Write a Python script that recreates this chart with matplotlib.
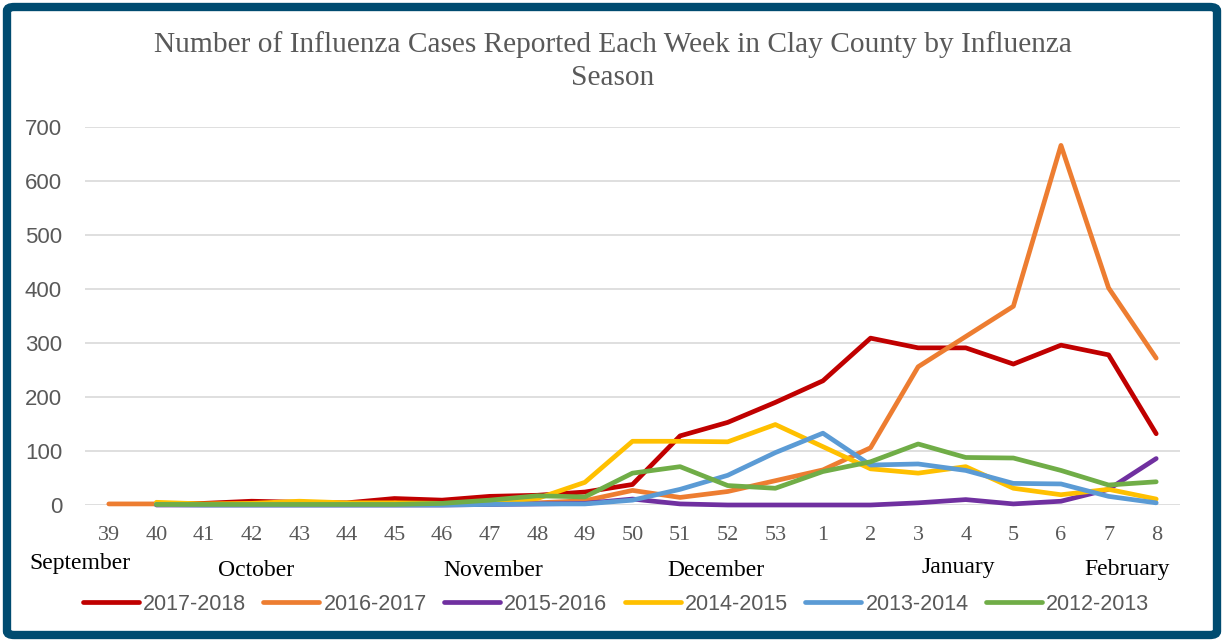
import numpy as np
import matplotlib.pyplot as plt
from matplotlib.patches import FancyBboxPatch

weeks = ['39', '40', '41', '42', '43', '44', '45', '46', '47', '48', '49', '50', '51', '52', '53',
         '1', '2', '3', '4', '5', '6', '7', '8']
nan = np.nan
s2017 = [nan, 2, 3, 7, 5, 4, 12, 9, 16, 18, 24, 38, 128, 153, 190, 230, 309, 291, 291, 261, 296, 278, 132]
s2016 = [2, 2, 1, 1, 1, 1, 1, 1, 2, 4, 8, 27, 14, 25, 45, 65, 106, 256, 312, 368, 666, 402, 272]
s2015 = [nan, 0, 0, 0, 0, 0, 0, 0, 1, 2, 3, 11, 2, 0, 0, 0, 0, 4, 10, 2, 7, 29, 86]
s2014 = [nan, 5, 2, 3, 7, 4, 4, 3, 5, 12, 42, 118, 118, 117, 149, 108, 67, 59, 71, 31, 19, 29, 11]
s2013 = [nan, 1, 0, 0, 0, 0, 0, 0, 1, 2, 2, 9, 29, 55, 97, 133, 74, 76, 64, 40, 39, 16, 4]
s2012 = [nan, 1, 1, 1, 1, 1, 1, 3, 9, 17, 15, 59, 71, 36, 31, 62, 80, 113, 88, 87, 64, 37, 43]
seasons = ['2017-2018', '2016-2017', '2015-2016', '2014-2015', '2013-2014', '2012-2013']
colors = ['#C00000', '#ED7D31', '#7030A0', '#FFC000', '#5B9BD5', '#70AD47']
months = ['September', 'October', 'November', 'December', 'January', 'February']
month_xy = [(80, 563), (256, 570), (493, 570), (716, 570), (958, 568), (1127, 570)]

W, H = 1224, 642
fig = plt.figure(figsize=(W / 100, H / 100), dpi=100)
gray = '#595959'

# border
fig.patches.append(FancyBboxPatch((7 / W, 7 / H), 1 - 14 / W, 1 - 14 / H,
                                  boxstyle='round,pad=0,rounding_size=0.006',
                                  transform=fig.transFigure, fill=False,
                                  edgecolor='#004B70', linewidth=6))

ax = fig.add_axes([85 / W, (H - 505) / H, (1180 - 85) / W, (505 - 127) / H])
x = np.arange(len(weeks))
for vals, name, c in zip([s2017, s2016, s2015, s2014, s2013, s2012], seasons, colors):
    ax.plot(x, vals, color=c, lw=3.4, label=name, clip_on=False,
            solid_capstyle='round', solid_joinstyle='round')

ax.set_xlim(-0.5, len(weeks) - 0.5)
ax.set_ylim(0, 700)
ax.set_yticks(range(0, 701, 100))
ax.set_xticks(x)
ax.set_xticklabels(weeks, fontfamily='Liberation Serif', fontsize=16, color=gray)
for t in ax.get_yticklabels():
    t.set_fontfamily('Liberation Sans')
    t.set_fontsize(16)
    t.set_color(gray)
ax.tick_params(length=0)
ax.tick_params(axis='x', pad=15)
ax.tick_params(axis='y', pad=16.5)
ax.grid(axis='y', color='#D9D9D9', lw=1.2)
ax.set_axisbelow(True)
for sp in ax.spines.values():
    sp.set_visible(False)

fig.text(613 / W, 1 - 45 / H, 'Number of Influenza Cases Reported Each Week in Clay County by Influenza',
         ha='center', va='center', fontsize=21.2, color=gray, fontfamily='Liberation Serif')
fig.text(613 / W, 1 - 78 / H, 'Season', ha='center', va='center', fontsize=21.2, color=gray,
         fontfamily='Liberation Serif')

for m, (mx, my) in zip(months, month_xy):
    fig.text(mx / W, 1 - my / H, m, ha='center', va='center', fontsize=17,
             color='black', fontfamily='Liberation Serif')

fig.legend(loc='center', bbox_to_anchor=(616 / W, 1 - 604 / H), ncol=6, frameon=False,
           prop={'family': 'Liberation Sans', 'size': 15.5}, labelcolor=gray,
           handlelength=2.6, handletextpad=0.2, columnspacing=0.8)

fig.savefig('out.png', dpi=100)
